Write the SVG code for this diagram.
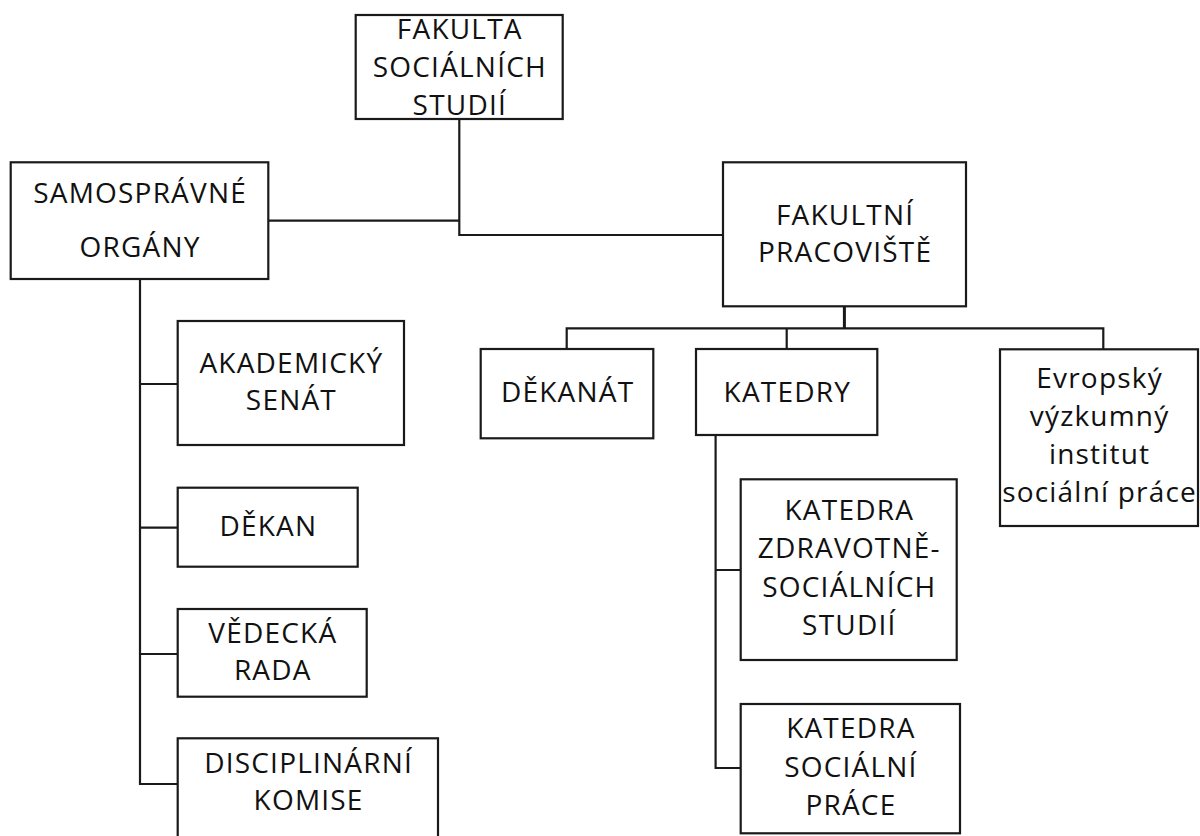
<svg xmlns="http://www.w3.org/2000/svg" width="1200" height="836" viewBox="0 0 1200 836">
<style>
.box{fill:#fff;stroke:#1a1a1a;stroke-width:2.2}
.lbl{font-family:"Open Sans","Noto Sans","Liberation Sans",sans-serif;font-size:28px;letter-spacing:1.2px;fill:#111;text-anchor:middle}
.con{fill:none;stroke:#1a1a1a;stroke-width:2.2}
</style>
<rect width="1200" height="836" fill="#fff"/>
<g id="connectors">
<path class="con" d="M459.3,119 V235 H723"/>
<path class="con" d="M268.3,220.7 H459.3"/>
<path class="con" d="M140,279 V784 H178 M140,384 H178 M140,527.7 H178 M140,654 H178"/>
<path class="con" style="stroke-width:3" d="M844.4,306 V328.5"/>
<path class="con" d="M566.7,349 V328.4 H1103.3 V349 M786.7,328.4 V349"/>
<path class="con" d="M715.6,435 V768 H741 M715.6,570 H741"/>
</g>
<g id="fakulta">
<rect class="box" x="355.7" y="15" width="207" height="104"/>
<text class="lbl" x="459.8" y="39.3">FAKULTA</text>
<text class="lbl" x="459.8" y="77.3">SOCIÁLNÍCH</text>
<text class="lbl" x="459.8" y="115">STUDIÍ</text>
</g>
<g id="samospravne">
<rect class="box" x="10.7" y="162.3" width="257.6" height="116.7"/>
<text class="lbl" x="140.1" y="203.3">SAMOSPRÁVNÉ</text>
<text class="lbl" x="140.1" y="257.3">ORGÁNY</text>
</g>
<g id="fakultni">
<rect class="box" x="723" y="162.3" width="243" height="144"/>
<text class="lbl" x="845.1" y="225">FAKULTNÍ</text>
<text class="lbl" x="845.1" y="261.7">PRACOVIŠTĚ</text>
</g>
<g id="senat">
<rect class="box" x="177.7" y="321" width="226.3" height="124"/>
<text class="lbl" x="291.4" y="373.3">AKADEMICKÝ</text>
<text class="lbl" x="291.4" y="410">SENÁT</text>
</g>
<g id="dekan">
<rect class="box" x="177.7" y="487.7" width="180" height="79"/>
<text class="lbl" x="268.4" y="536">DĚKAN</text>
</g>
<g id="vedecka">
<rect class="box" x="177.7" y="609" width="189" height="87.7"/>
<text class="lbl" x="272.8" y="643.3">VĚDECKÁ</text>
<text class="lbl" x="272.8" y="680">RADA</text>
</g>
<g id="disciplinarni">
<rect class="box" x="177.7" y="738.3" width="260.3" height="120"/>
<text class="lbl" x="308.6" y="773.3">DISCIPLINÁRNÍ</text>
<text class="lbl" x="308.6" y="810">KOMISE</text>
</g>
<g id="dekanat">
<rect class="box" x="480.7" y="349" width="172.6" height="89.3"/>
<text class="lbl" x="567.6" y="401.7">DĚKANÁT</text>
</g>
<g id="katedry">
<rect class="box" x="696" y="349" width="181.3" height="86"/>
<text class="lbl" x="787.3" y="401.7">KATEDRY</text>
</g>
<g id="evropsky">
<rect class="box" x="1000" y="349.3" width="198" height="176.7"/>
<text class="lbl" x="1099.6" y="388.3">Evropský</text>
<text class="lbl" x="1099.6" y="426">výzkumný</text>
<text class="lbl" x="1099.6" y="464">institut</text>
<text class="lbl" x="1099.6" y="501.7">sociální práce</text>
</g>
<g id="katedra-zdrav">
<rect class="box" x="740.7" y="479.3" width="216" height="180.7"/>
<text class="lbl" x="849.3" y="520">KATEDRA</text>
<text class="lbl" x="849.3" y="558.3">ZDRAVOTNĚ-</text>
<text class="lbl" x="849.3" y="596.7">SOCIÁLNÍCH</text>
<text class="lbl" x="849.3" y="635">STUDIÍ</text>
</g>
<g id="katedra-soc">
<rect class="box" x="740.7" y="704" width="219.3" height="129.3"/>
<text class="lbl" x="850.9" y="738.3">KATEDRA</text>
<text class="lbl" x="850.9" y="776.7">SOCIÁLNÍ</text>
<text class="lbl" x="850.9" y="815">PRÁCE</text>
</g>
</svg>
